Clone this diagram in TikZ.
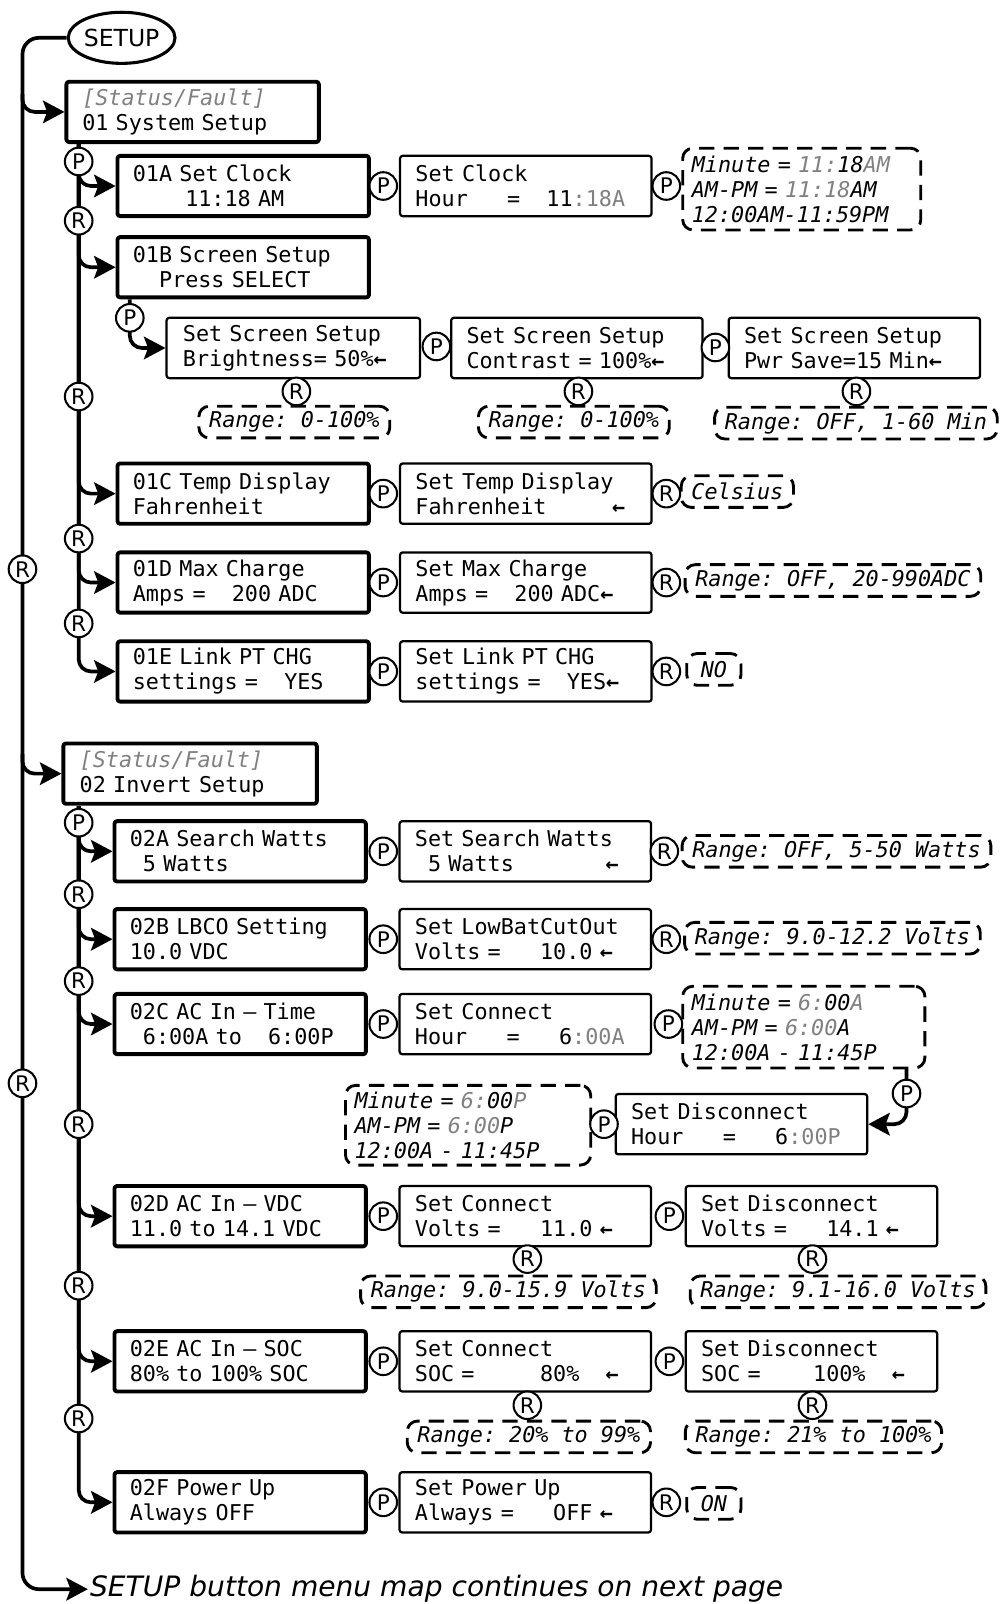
\documentclass[tikz,border=0pt]{standalone}
\usepackage{fontspec}
\setmainfont{DejaVu Sans}
\newfontfamily\lcdfont{DejaVu Sans Mono}
\usetikzlibrary{arrows.meta,shapes.geometric}
\definecolor{dimtxt}{gray}{0.5}
\newcommand\padc[1]{\hspace*{#1\dimexpr0.602em\relax}}
\newcommand\gry[1]{\textcolor{dimtxt}{#1}}
\newcommand\lar{{\bfseries ←}}
\frenchspacing
\begin{document}
\begin{tikzpicture}[x=1pt,y=-1pt,line cap=butt,line join=round,
		flow/.style={line width=3.6pt,-{Stealth[length=21pt,width=22pt,inset=4pt]}},
		menu/.style={draw,line width=3.8pt,rounded corners=2.5pt,minimum width=246pt,minimum height=59pt,
			text width=216pt,inner xsep=15pt,align=left,font=\lcdfont\fontsize{21.3pt}{24.5pt}\selectfont},
		setbox/.style={menu,line width=2.2pt},
		btn/.style={draw,circle,fill=white,line width=2pt,minimum size=27pt,inner sep=0pt,
			font=\fontsize{21pt}{22pt}\selectfont},
		rangebox/.style={draw,dash pattern=on 15pt off 9pt,line width=2.8pt,rounded corners=10pt,
			inner xsep=10pt,inner ysep=2pt,minimum height=31pt,align=left,
			font=\lcdfont\itshape\fontsize{21.3pt}{24.5pt}\selectfont},
		clockbox/.style={rangebox,text width=215pt,inner xsep=9pt,minimum height=80pt}]
	\useasboundingbox (0,0) rectangle (979.5,1569.5);
	% start of the menu
	\node[draw,ellipse,line width=3pt,inner sep=0pt,minimum width=98pt,minimum height=50pt,
		font=\fontsize{23pt}{24pt}\selectfont] (setup) at (119,37) {SETUP};
	\node[anchor=west,inner sep=2pt,font=\itshape\fontsize{27.5pt}{28pt}\selectfont] (next) at (86,1555)
		{SETUP button menu map continues on next page};
	% 01 System Setup
	\node[menu,minimum width=247pt] (sys) at (188.5,109.5) {\gry{\itshape[Status/Fault]}\\01 System Setup};
	\node[menu] (clk) at (238,182) {01A Set Clock\\\padc{4}11:18 AM};
	\node[setbox] (clkHr) at (514.5,182) {Set Clock\\Hour\padc{3}=\padc{2}11\gry{:18A}};
	\node[clockbox] (clkSet) at (784.5,185) {Minute = \gry{11:}18\gry{AM}\\AM-PM = \gry{11:18}AM\\12:00AM-11:59PM};
	\node[menu] (scr) at (238,261.5) {01B Screen Setup\\\padc{2}Press SELECT};
	\node[setbox,minimum width=248pt] (bri) at (287,340.5) {Set Screen Setup\\Brightness= 50\%\lar};
	\node[setbox,minimum width=245pt] (con) at (564.5,340.5) {Set Screen Setup\\Contrast = 100\%\lar};
	\node[setbox,minimum width=242pt] (pwr) at (836,340.5) {Set Screen Setup\\Pwr Save=15 Min\lar};
	\node[rangebox] (briRng) at (288,413) {Range: 0-100\%};
	\node[rangebox] (conRng) at (561.5,413) {Range: 0-100\%};
	\node[rangebox] (pwrRng) at (837.5,414) {Range: OFF, 1-60 Min};
	\node[menu] (tmp) at (238,483) {01C Temp Display\\Fahrenheit};
	\node[setbox] (tmpSet) at (514.5,483) {Set Temp Display\\Fahrenheit\padc{5}\lar};
	\node[rangebox] (tmpRng) at (721.5,481) {Celsius};
	\node[menu] (amp) at (238,570) {01D Max Charge\\Amps =\padc{2}200 ADC};
	\node[setbox] (ampSet) at (514.5,570) {Set Max Charge\\Amps =\padc{2}200 ADC\lar};
	\node[rangebox] (ampRng) at (815,568) {Range: OFF, 20-990ADC};
	\node[menu] (lnk) at (238,657) {01E Link PT CHG\\settings =\padc{2}YES};
	\node[setbox] (lnkSet) at (514.5,657) {Set Link PT CHG\\settings =\padc{2}YES\lar};
	\node[rangebox,minimum width=53pt] (lnkRng) at (698.5,655) {NO};
	% 02 Invert Setup
	\node[menu,minimum width=248pt] (inv) at (186,757) {\gry{\itshape[Status/Fault]}\\02 Invert Setup};
	\node[menu] (srch) at (235,833) {02A Search Watts\\\padc{1}5 Watts};
	\node[setbox] (srchSet) at (514,833) {Set Search Watts\\\padc{1}5 Watts\padc{7}\lar};
	\node[rangebox] (srchRng) at (818.5,833) {Range: OFF, 5-50 Watts};
	\node[menu] (lbco) at (235,919) {02B LBCO Setting\\10.0 VDC};
	\node[setbox] (lbcoSet) at (514,919) {Set LowBatCutOut\\Volts =\padc{3}10.0 \lar};
	\node[rangebox] (lbcoRng) at (814.5,918) {Range: 9.0-12.2 Volts};
	\node[menu] (tim) at (235,1002) {02C AC In – Time\\\padc{1}6:00A to\padc{2}6:00P};
	\node[setbox] (timOn) at (514,1002) {Set Connect\\Hour\padc{3}=\padc{3}6\gry{:00A}};
	\node[clockbox,text width=219pt] (timOnSet) at (786.5,1005) {Minute = \gry{6:}00\gry{A}\\AM-PM = \gry{6:00}A\\12:00A - 11:45P};
	\node[setbox,minimum width=241pt] (timOff) at (725.5,1100) {Set Disconnect\\Hour\padc{3}=\padc{3}6\gry{:00P}};
	\node[clockbox,text width=222pt,minimum height=78pt] (timOffSet) at (458,1101) {Minute = \gry{6:}00\gry{P}\\AM-PM = \gry{6:00}P\\12:00A - 11:45P};
	\node[menu] (vdc) at (235,1190) {02D AC In – VDC\\11.0 to 14.1 VDC};
	\node[setbox] (vdcOn) at (514,1190) {Set Connect\\Volts =\padc{3}11.0 \lar};
	\node[setbox] (vdcOff) at (794,1190) {Set Disconnect\\Volts =\padc{3}14.1 \lar};
	\node[rangebox] (vdcOnRng) at (497.5,1264) {Range: 9.0-15.9 Volts};
	\node[rangebox] (vdcOffRng) at (820,1264) {Range: 9.1-16.0 Volts};
	\node[menu] (soc) at (235,1332) {02E AC In – SOC\\80\% to 100\% SOC};
	\node[setbox] (socOn) at (514,1332) {Set Connect\\SOC =\padc{5}80\%\padc{2}\lar};
	\node[setbox] (socOff) at (794,1332) {Set Disconnect\\SOC =\padc{4}100\%\padc{2}\lar};
	\node[rangebox] (socOnRng) at (517.5,1406) {Range: 20\% to 99\%};
	\node[rangebox] (socOffRng) at (796,1406) {Range: 21\% to 100\%};
	\node[menu] (pup) at (235,1470) {02F Power Up\\Always OFF};
	\node[setbox] (pupSet) at (514,1470) {Set Power Up\\Always =\padc{3}OFF \lar};
	\node[rangebox,minimum width=53pt] (pupRng) at (698.5,1471) {ON};
	% connectors
	\coordinate (mainBot) at (22,1555);
	\coordinate (mainA) at (22,92);
	\coordinate (mainB) at (22,738);
	\coordinate (sysTrunk) at (77,141);
	\coordinate (invTrunk) at (77,789);
	\coordinate (scrDrop) at (127,293);
	\coordinate (timLoop) at (887,1046);
	\draw[flow,rounded corners=16pt] (setup.west) -| (mainBot) -- (next.west);
	\draw[flow,rounded corners=12pt] (mainA) |- (sys.west);
	\draw[flow,rounded corners=12pt] (mainB) |- (inv.west);
	\foreach \t in {clk,scr,tmp,amp,lnk}
		\draw[flow,rounded corners=12pt] (sysTrunk) |- (\t.west);
	\foreach \t in {srch,lbco,tim,vdc,soc,pup}
		\draw[flow,rounded corners=12pt] (invTrunk) |- (\t.west);
	\draw[flow,rounded corners=12pt] (scrDrop) |- (bri.west);
	\draw[flow,rounded corners=12pt] (timLoop) |- (timOff.east);
	% P and R keys
	\foreach \y/\k [count=\n] in {557/R,1060/R}
		\node[btn] (km\n) at (22,\y) {\k};
	\foreach \y/\k [count=\n] in {158/P,216/R,388/R,527/R,610/R}
		\node[btn] (ka\n) at (77,\y) {\k};
	\foreach \y/\k [count=\n] in {805/P,875/R,960/R,1100/R,1258/R,1388/R}
		\node[btn] (kb\n) at (77,\y) {\k};
	\foreach \x/\y/\k [count=\n] in {375/182/P,652/182/P,127/311/P,427/339/P,700/340/P,
			290/383/R,566/383/R,838/383/R,375/483/P,652/483/R,375/570/P,652/570/R,375/657/P,652/657/R}
		\node[btn] (kc\n) at (\x,\y) {\k};
	\foreach \x/\y/\k [count=\n] in {375/833/P,650/833/R,375/919/P,652/919/R,375/1002/P,654/1002/P,
			887/1070/P,591/1100/P,375/1190/P,655/1190/P,516/1232/R,795/1232/R,375/1332/P,655/1332/P,
			516/1375/R,795/1375/R,375/1470/P,652/1470/R}
		\node[btn] (kd\n) at (\x,\y) {\k};
\end{tikzpicture}
\end{document}
